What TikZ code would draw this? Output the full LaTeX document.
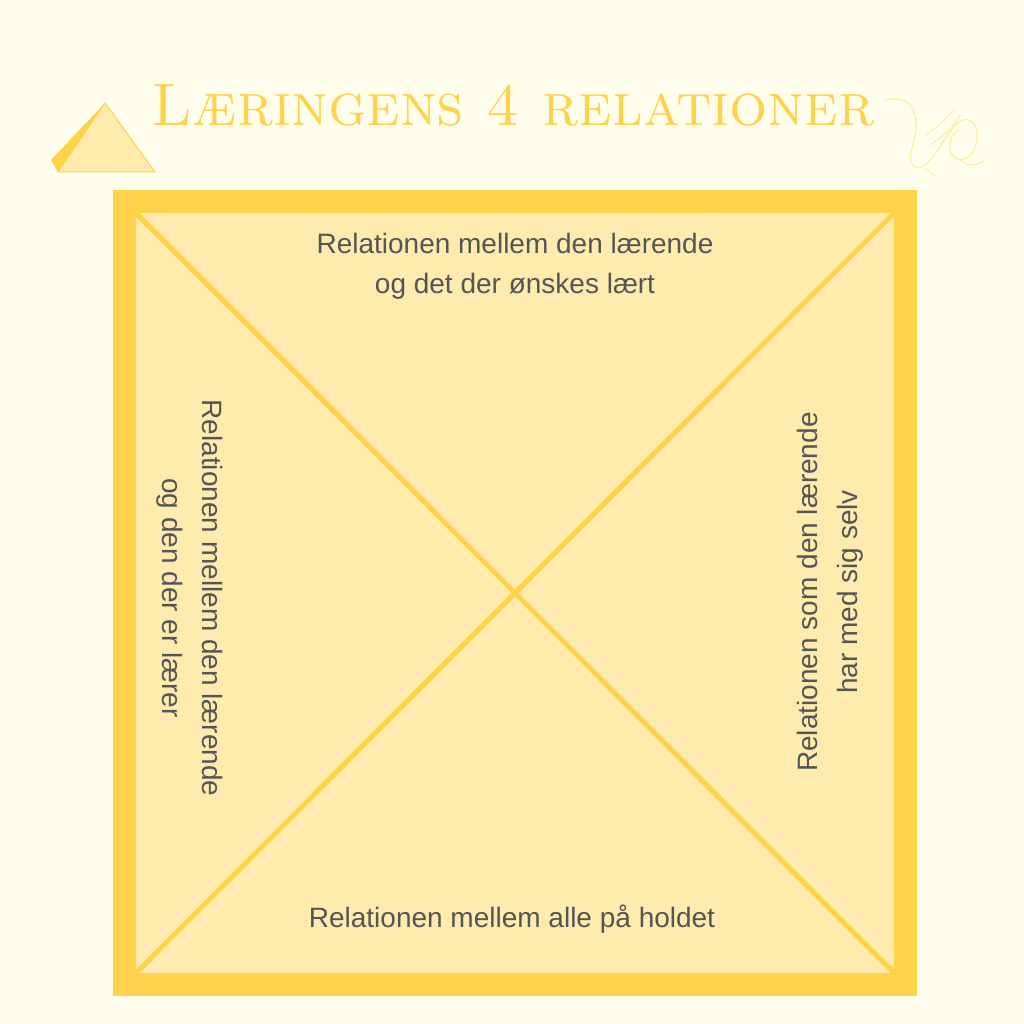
\documentclass[tikz,border=0pt]{standalone}
\usepackage{fontspec}
\setsansfont{Liberation Sans}
\begin{document}
\begin{tikzpicture}[x=1pt,y=-1pt,
 lbl/.style={font=\sffamily\fontsize{28}{40}\selectfont,text=txt,align=center},
 diag/.style={draw=gold,line width=5pt}]
\definecolor{bg}{HTML}{FFFEED}
\definecolor{gold}{HTML}{FFD24A}
\definecolor{pale}{HTML}{FFEBAE}
\definecolor{txt}{HTML}{555555}
\definecolor{faint}{HTML}{FFECA0}
\fill[bg] (0,0) rectangle (1024,1024);
\useasboundingbox (0,0) rectangle (1024,1024);
% title
\node (title) at (513,105) {\textcolor{gold}{\fontsize{60}{62}\selectfont\textsc{Læringens 4 relationer}}};
% pyramid
\fill[gold] (51,160) -- (105,103) -- (58,172) -- cycle;
\fill[pale,draw=gold,line width=1pt] (58,172) -- (105,103) -- (155,172) -- cycle;
% dragon (sketchy)
\draw[faint,line width=1.2pt] (885,100) .. controls (905,95) and (918,105) .. (916,130) .. controls (912,150) and (905,165) .. (918,168) .. controls (935,165) and (945,130) .. (962,120) .. controls (985,115) and (980,160) .. (960,160) .. controls (948,158) and (945,140) .. (958,130);
\draw[faint,line width=1pt] (926,135) .. controls (940,125) and (950,115) .. (955,108);
\draw[faint,line width=1pt] (930,145) .. controls (945,135) and (955,125) .. (960,115);
\draw[faint,line width=1pt] (960,160) .. controls (970,168) and (978,165) .. (985,160);
\draw[faint,line width=1pt] (925,168) -- (935,176);
% frame
\fill[gold] (113,190) rectangle (917,996);
\fill[pale] (136,213) rectangle (894,973);
\coordinate (tl) at (136,213); \coordinate (tr) at (894,213);
\coordinate (bl) at (136,973); \coordinate (br) at (894,973);
\draw[diag] (tl) -- (br);
\draw[diag] (tr) -- (bl);
\node[lbl] (top) at (515,266) {Relationen mellem den lærende\\og det der ønskes lært};
\node[lbl] (bot) at (512,919) {Relationen mellem alle på holdet};
\node[lbl,rotate=-90] (left) at (190,598) {Relationen mellem den lærende\\og den der er lærer};
\node[lbl,rotate=90] (right) at (830,592) {Relationen som den lærende\\har med sig selv};
\end{tikzpicture}
\end{document}
